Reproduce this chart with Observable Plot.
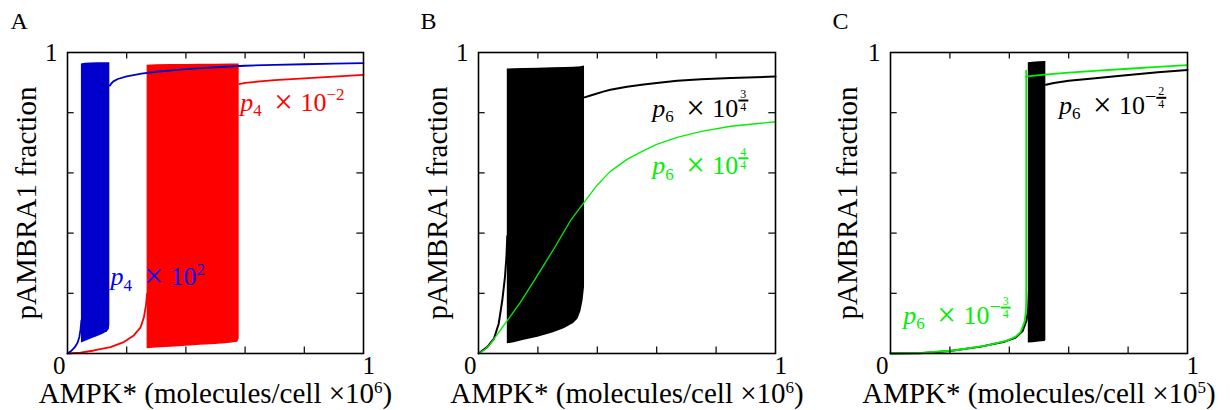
<!DOCTYPE html>
<html><head><meta charset="utf-8">
<script src="https://cdn.jsdelivr.net/npm/d3@7"></script>
<script src="https://cdn.jsdelivr.net/npm/@observablehq/plot@0.6"></script>
<style>
body{margin:0;background:#fff;}
#wrap{display:flex;width:1230px;height:410px;overflow:hidden;}
#wrap svg{display:block;font-family:"Liberation Serif","DejaVu Serif",serif !important;}
#wrap svg text{font-family:"Liberation Serif","DejaVu Serif",serif !important;}
</style></head><body><div id="wrap"></div>
<script>
const FONT = "Liberation Serif";
const xTicks = [0.2, 0.4, 0.6, 0.8];
const yTicks = [0.2, 0.4, 0.6, 0.8];

// ---- Panel A (p4 variations) ----
const aRedPreX = [0, 0.044, 0.089, 0.145, 0.19, 0.224, 0.247, 0.258, 0.265, 0.269];
const aRedPreY = [0, 0.003, 0.01, 0.021, 0.038, 0.06, 0.087, 0.12, 0.16, 0.2];
const aRedBandX  = [0.269, 0.3, 0.35, 0.4, 0.45, 0.5, 0.55, 0.575, 0.58];
const aRedBandLo = [0.016, 0.018, 0.021, 0.024, 0.027, 0.03, 0.034, 0.037, 0.048];
const aRedBandHi = [0.958, 0.959, 0.96, 0.96, 0.961, 0.961, 0.962, 0.962, 0.962];
const aRedUpX = [0.58, 0.6, 0.65, 0.7, 0.8, 0.9, 1];
const aRedUpY = [0.895, 0.899, 0.904, 0.908, 0.914, 0.92, 0.926];
const aBluePreX = [0, 0.012, 0.024, 0.034, 0.04, 0.044, 0.047];
const aBluePreY = [0, 0.008, 0.02, 0.036, 0.055, 0.08, 0.11];
const aBlueBandX  = [0.047, 0.06, 0.08, 0.1, 0.12, 0.135, 0.141, 0.143];
const aBlueBandLo = [0.035, 0.04, 0.048, 0.056, 0.064, 0.072, 0.08, 0.095];
const aBlueBandHi = [0.962, 0.964, 0.965, 0.966, 0.966, 0.966, 0.966, 0.966];
const aBlueUpX = [0.143, 0.148, 0.155, 0.17, 0.2, 0.25, 0.3, 0.4, 0.5, 0.6, 0.7, 0.8, 0.9, 1];
const aBlueUpY = [0.89, 0.897, 0.904, 0.912, 0.921, 0.93, 0.936, 0.945, 0.951, 0.956, 0.959, 0.961, 0.963, 0.965];

// ---- Panel B (p6 x 10^(3/4), 10^(4/4)) ----
const bBlkPreX = [0, 0.029, 0.052, 0.068, 0.08, 0.089, 0.094, 0.097];
const bBlkPreY = [0, 0.021, 0.049, 0.099, 0.176, 0.253, 0.32, 0.39];
const bBandX  = [0.097, 0.12, 0.15, 0.2, 0.25, 0.29, 0.32, 0.335, 0.345, 0.352, 0.357];
const bBandLo = [0.032, 0.036, 0.043, 0.054, 0.068, 0.083, 0.1, 0.115, 0.14, 0.175, 0.22];
const bBandHi = [0.945, 0.946, 0.947, 0.948, 0.949, 0.95, 0.951, 0.952, 0.953, 0.954, 0.955];
const bBlkUpX = [0.357, 0.38, 0.42, 0.444, 0.5, 0.556, 0.6, 0.669, 0.75, 0.85, 1];
const bBlkUpY = [0.851, 0.858, 0.87, 0.876, 0.886, 0.894, 0.899, 0.906, 0.911, 0.915, 0.92];
const bGrnX = [0, 0.02, 0.04, 0.085, 0.141, 0.198, 0.254, 0.31, 0.36, 0.4, 0.444, 0.5, 0.556, 0.6, 0.669, 0.75, 0.85, 0.95, 1];
const bGrnY = [0, 0.012, 0.032, 0.093, 0.17, 0.259, 0.348, 0.442, 0.508, 0.56, 0.605, 0.645, 0.674, 0.695, 0.718, 0.738, 0.755, 0.765, 0.77];

// ---- Panel C (p6 x 10^(-2/4), 10^(-3/4)) ----
const cBlkPreX = [0, 0.1, 0.2, 0.3, 0.38, 0.42, 0.445, 0.458, 0.464, 0.466];
const cBlkPreY = [0, 0.001, 0.008, 0.022, 0.038, 0.052, 0.075, 0.11, 0.15, 0.2];
const cBandX  = [0.464, 0.48, 0.5, 0.52, 0.523];
const cBandLo = [0.035, 0.036, 0.038, 0.04, 0.043];
const cBandHi = [0.966, 0.968, 0.969, 0.97, 0.97];
const cBlkUpX = [0.523, 0.55, 0.6, 0.663, 0.775, 0.9, 1];
const cBlkUpY = [0.893, 0.899, 0.906, 0.912, 0.923, 0.934, 0.942];
const cGrnPreX = [0, 0.05, 0.101, 0.213, 0.326, 0.393, 0.42, 0.438, 0.451, 0.456, 0.457, 0.457];
const cGrnPreY = [0, 0.001, 0.002, 0.01, 0.027, 0.043, 0.055, 0.071, 0.104, 0.14, 0.18, 0.94];
const cGrnUpX = [0.457, 0.5, 0.55, 0.6, 0.7, 0.8, 0.9, 1];
const cGrnUpY = [0.92, 0.925, 0.929, 0.933, 0.94, 0.946, 0.952, 0.958];

const RED = "#ff0000", BLUE = "#0000cc", GREEN = "#00f000", BLACK = "#000000";

const pts = (xs, ys) => xs.map((x, i) => ({x, y: ys[i]}));
const band = (xs, lo, hi) => xs.map((x, i) => ({x, lo: lo[i], hi: hi[i]}));

// rich text specs: plain text -> segments
const TIMES = [{t: " "}, {t: "×", dx: 6, size: 33, off: 2}, {t: " "}, {t: "10", dx: 1}];
const RICH = {
  "p4 × 10^−2": [{t: "p", it: 1}, {t: "4", sub: 1}, ...TIMES, {t: "−2", sup: 1}],
  "p4 × 10^2": [{t: "p", it: 1}, {t: "4", sub: 1}, ...TIMES, {t: "2", sup: 1}],
  "p6 × 10^(3/4)": [{t: "p", it: 1}, {t: "6", sub: 1}, ...TIMES, {frac: ["3", "4"]}],
  "p6 × 10^(4/4)": [{t: "p", it: 1}, {t: "6", sub: 1}, ...TIMES, {frac: ["4", "4"]}],
  "p6 × 10^(−2/4)": [{t: "p", it: 1}, {t: "6", sub: 1}, ...TIMES, {t: "−", sup: 1, big: 1}, {frac: ["2", "4"]}],
  "p6 × 10^(−3/4)": [{t: "p", it: 1}, {t: "6", sub: 1}, ...TIMES, {t: "−", sup: 1, big: 1}, {frac: ["3", "4"]}],
  "AMPK* (molecules/cell ×10^6)": [{t: "AMPK* (molecules/cell ×10"}, {t: "6", sup: 1}, {t: ")"}],
  "AMPK* (molecules/cell ×10^5)": [{t: "AMPK* (molecules/cell ×10"}, {t: "5", sup: 1}, {t: ")"}]
};

function applyRich(svg) {
  d3.select(svg).selectAll("text").each(function () {
    const spec = RICH[this.textContent];
    if (!spec) return;
    const text = d3.select(this);
    text.text(null);
    let cur = 0;
    const bars = [];
    for (const s of spec) {
      if (s.frac) {
        const num = text.append("tspan").attr("font-size", 12).attr("dx", 2).attr("dy", -18.5 - cur).text(s.frac[0]);
        cur = -18.5;
        const den = text.append("tspan").attr("font-size", 12).attr("dy", -5.5 - cur).text(s.frac[1]);
        cur = -5.5;
        const wn = num.node().getComputedTextLength();
        const wd = den.node().getComputedTextLength();
        den.attr("dx", -(wn + wd) / 2);
        bars.push(num.node());
      } else {
        const off = s.sub ? 5.5 : s.sup ? -10.5 : (s.off || 0);
        const ts = text.append("tspan").text(s.t);
        if (off - cur !== 0) ts.attr("dy", off - cur);
        if (s.dx) ts.attr("dx", s.dx);
        cur = off;
        if (s.it) ts.attr("font-style", "italic");
        if (s.sub || s.sup) ts.attr("font-size", s.big ? 20 : 17);
        if (s.size) ts.attr("font-size", s.size);
      }
    }
    for (const n of bars) {
      const b = n.getBBox();
      d3.select(this.parentNode).append("rect")
        .attr("transform", this.getAttribute("transform"))
        .attr("x", b.x - 2).attr("width", b.width + 4)
        .attr("y", b.y + b.height - 1.6).attr("height", 2)
        .attr("fill", this.getAttribute("fill") || getComputedStyle(this).fill || "black");
    }
  });
}

function panel({letter, ml, mr, ylabDx, xlabel, marks}) {
  const T = {fontFamily: FONT, fill: "black"};
  return Plot.plot({
    width: 410, height: 410,
    marginLeft: ml, marginRight: mr, marginTop: 52, marginBottom: 57,
    x: {domain: [0, 1], axis: null},
    y: {domain: [0, 1], axis: null},
    style: {fontFamily: FONT, fontSize: "24px", background: "white", color: "black", overflow: "visible"},
    marks: [
      ...marks,
      Plot.frame({stroke: "black", strokeWidth: 1.6}),
      Plot.ruleX(xTicks, {y1: 0, y2: 0.022, stroke: "black", strokeWidth: 1.2}),
      Plot.ruleX(xTicks, {y1: 0.978, y2: 1, stroke: "black", strokeWidth: 1.2}),
      Plot.ruleY(yTicks, {x1: 0, x2: 0.0225, stroke: "black", strokeWidth: 1.2}),
      Plot.ruleY(yTicks, {x1: 0.9775, x2: 1, stroke: "black", strokeWidth: 1.2}),
      Plot.text(["0"], {...T, x: 0, y: 0, text: d => d, textAnchor: "end", lineAnchor: "bottom", dx: -2, dy: 20, fontSize: 25}),
      Plot.text(["1"], {...T, x: 1, y: 0, text: d => d, textAnchor: "start", lineAnchor: "bottom", dx: -1, dy: 20, fontSize: 25}),
      Plot.text(["1"], {...T, x: 0, y: 1, text: d => d, textAnchor: "end", lineAnchor: "bottom", dx: -10, dy: 8, fontSize: 25}),
      Plot.text([letter], {...T, frameAnchor: "top-left", text: d => d, textAnchor: "start", lineAnchor: "bottom", dx: ml === 67 ? -57 : -58, dy: -23.5, fontSize: 24}),
      Plot.text(["pAMBRA1 fraction"], {...T, frameAnchor: "left", text: d => d, rotate: -90, textAnchor: "middle", lineAnchor: "bottom", dx: ylabDx, fontSize: 29}),
      Plot.text([xlabel], {...T, frameAnchor: "bottom", text: d => d, textAnchor: "middle", lineAnchor: "bottom", dy: 49.5, fontSize: 29})
    ]
  });
}

const lbl = (s, x, y, color) => Plot.text([s], {x: () => x, y: () => y, text: d => d, textAnchor: "start", lineAnchor: "bottom", fontSize: 26, fontFamily: FONT, fill: color});

const panels = [
  panel({letter: "A", ml: 67, mr: 47, ylabDx: -31.5, xlabel: "AMPK* (molecules/cell ×10^6)", marks: [
    Plot.areaY(band(aRedBandX, aRedBandLo, aRedBandHi), {x: "x", y1: "lo", y2: "hi", fill: RED}),
    Plot.line(pts(aRedPreX, aRedPreY), {x: "x", y: "y", stroke: RED, strokeWidth: 1.8}),
    Plot.line(pts(aRedUpX, aRedUpY), {x: "x", y: "y", stroke: RED, strokeWidth: 1.8}),
    lbl("p4 × 10^−2", 0.584, 0.807, RED),
    Plot.areaY(band(aBlueBandX, aBlueBandLo, aBlueBandHi), {x: "x", y1: "lo", y2: "hi", fill: BLUE}),
    Plot.line(pts(aBluePreX, aBluePreY), {x: "x", y: "y", stroke: BLUE, strokeWidth: 1.8}),
    Plot.line(pts(aBlueUpX, aBlueUpY), {x: "x", y: "y", stroke: BLUE, strokeWidth: 1.8}),
    lbl("p4 × 10^2", 0.145, 0.226, "#0000ff")
  ]}),
  panel({letter: "B", ml: 68, mr: 45, ylabDx: -31.3, xlabel: "AMPK* (molecules/cell ×10^6)", marks: [
    Plot.areaY(band(bBandX, bBandLo, bBandHi), {x: "x", y1: "lo", y2: "hi", fill: BLACK}),
    Plot.line(pts(bBlkPreX, bBlkPreY), {x: "x", y: "y", stroke: BLACK, strokeWidth: 2}),
    Plot.line(pts(bBlkUpX, bBlkUpY), {x: "x", y: "y", stroke: BLACK, strokeWidth: 2}),
    Plot.line(pts(bGrnX, bGrnY), {x: "x", y: "y", stroke: GREEN, strokeWidth: 1.3}),
    lbl("p6 × 10^(3/4)", 0.585, 0.787, BLACK),
    lbl("p6 × 10^(4/4)", 0.585, 0.595, GREEN)
  ]}),
  panel({letter: "C", ml: 70, mr: 43, ylabDx: -33.3, xlabel: "AMPK* (molecules/cell ×10^5)", marks: [
    Plot.line(pts(cBlkPreX, cBlkPreY), {x: "x", y: "y", stroke: BLACK, strokeWidth: 2}),
    Plot.areaY(band(cBandX, cBandLo, cBandHi), {x: "x", y1: "lo", y2: "hi", fill: BLACK}),
    Plot.line(pts(cBlkUpX, cBlkUpY), {x: "x", y: "y", stroke: BLACK, strokeWidth: 2}),
    Plot.line(pts(cGrnPreX, cGrnPreY), {x: "x", y: "y", stroke: GREEN, strokeWidth: 1.8}),
    Plot.line(pts(cGrnUpX, cGrnUpY), {x: "x", y: "y", stroke: GREEN, strokeWidth: 1.8}),
    lbl("p6 × 10^(−2/4)", 0.567, 0.796, BLACK),
    lbl("p6 × 10^(−3/4)", 0.043, 0.099, GREEN)
  ]})
];

const wrap = document.getElementById("wrap");
for (const p of panels) { wrap.appendChild(p); applyRich(p); }
</script>
</body></html>
